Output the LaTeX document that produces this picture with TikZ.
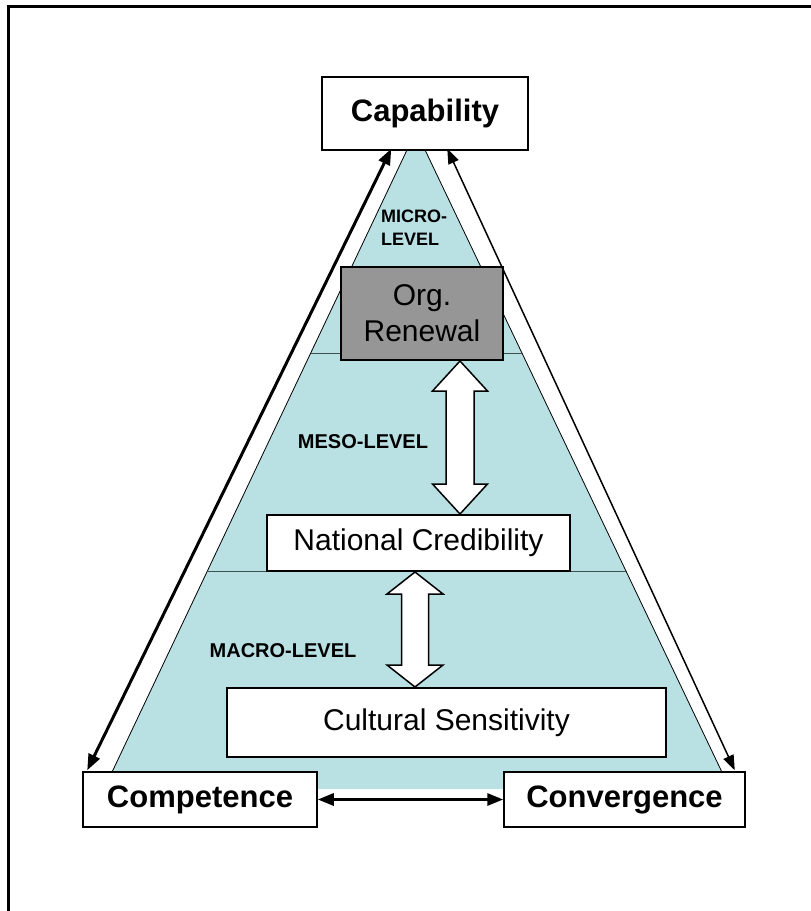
\documentclass[tikz,border=0pt]{standalone}
\usepackage{fontspec}
\setmainfont{Liberation Sans}
\usetikzlibrary{arrows.meta,calc}
\definecolor{pyrblue}{RGB}{185,224,227}
\definecolor{boxgray}{RGB}{150,150,150}
\definecolor{divline}{RGB}{60,80,80}

\begin{document}
\begin{tikzpicture}[x=1pt,y=-1pt,
  box/.style={draw=black,line width=1.5pt,fill=white,inner sep=0pt,text=black},
  bigbold/.style={font=\fontsize{31}{36}\selectfont\bfseries},
  plaintext/.style={font=\fontsize{30}{36}\selectfont},
  levellabel/.style={font=\fontsize{20}{23}\selectfont\bfseries,inner sep=0pt},
  blockarrow/.style={draw=black,line width=1.5pt,fill=white,line join=miter},
  bigtip/.tip={Triangle[length=16pt,width=12pt]},
  smalltip/.tip={Triangle[length=15pt,width=11pt]}
]
\useasboundingbox (0,0) rectangle (811,911);

% page frame (left and top edges)
\draw[line width=3pt] (8,915) -- (8,6) -- (815,6);

% pyramid body and level dividers
\coordinate (apex) at (416,131);
\coordinate (bl) at (104,789);
\coordinate (br) at (730,789);
\fill[pyrblue] (apex) -- (bl) -- (br) -- cycle;
\draw[line width=0.8pt] (bl) -- (apex) -- (br);
\draw[divline,line width=1pt] ($(apex)!0.3374!(bl)$) -- ($(apex)!0.3374!(br)$);
\draw[divline,line width=1pt] ($(apex)!0.6702!(bl)$) -- ($(apex)!0.6702!(br)$);

% boxes
\node[box,bigbold,minimum width=206pt,minimum height=73pt] (cap) at (425,113.5) {Capability};
\node[box,fill=boxgray,plaintext,align=center,minimum width=162pt,minimum height=93pt] (org) at (422,313.5) {Org.\\Renewal};
\node[box,plaintext,minimum width=303pt,minimum height=56pt] (nat) at (418.5,543) {National Credibility};
\node[box,plaintext,minimum width=439pt,minimum height=69pt] (cul) at (446.5,722.5) {Cultural Sensitivity};
\node[box,bigbold,minimum width=234pt,minimum height=55pt] (comp) at (200,799.5) {Competence};
\node[box,bigbold,minimum width=241pt,minimum height=55pt] (conv) at (624.5,799.5) {Convergence};

% level labels
\node[levellabel,align=left,anchor=west,font=\fontsize{18}{23}\selectfont\bfseries] (micro) at (381,228) {MICRO-\\LEVEL};
\node[levellabel] (meso) at (363,442) {MESO-LEVEL};
\node[levellabel] (macro) at (283,651) {MACRO-LEVEL};

% side and base connectors
\draw[line width=3pt,{bigtip}-{bigtip}] ($(comp.north west)+(5,-1)$) -- ($(cap.south west)+(70,-2)$);
\draw[line width=1.5pt,{smalltip}-{smalltip}] ($(cap.south west)+(126,-2)$) -- ($(conv.north east)+(-11,-1)$);
\draw[line width=3pt,{bigtip}-{bigtip}] (comp.east) -- (conv.west);

% hollow block arrows between the levels
\draw[blockarrow] (460,361) -- (487.5,391) -- (474,391) -- (474,484) -- (487.5,484) -- (460,514)
  -- (432.5,484) -- (446,484) -- (446,391) -- (432.5,391) -- cycle;
\draw[blockarrow] (415,572) -- (443,594) -- (428.5,594) -- (428.5,665) -- (443,665) -- (415,687)
  -- (387,665) -- (401.5,665) -- (401.5,594) -- (387,594) -- cycle;
\end{tikzpicture}
\end{document}
